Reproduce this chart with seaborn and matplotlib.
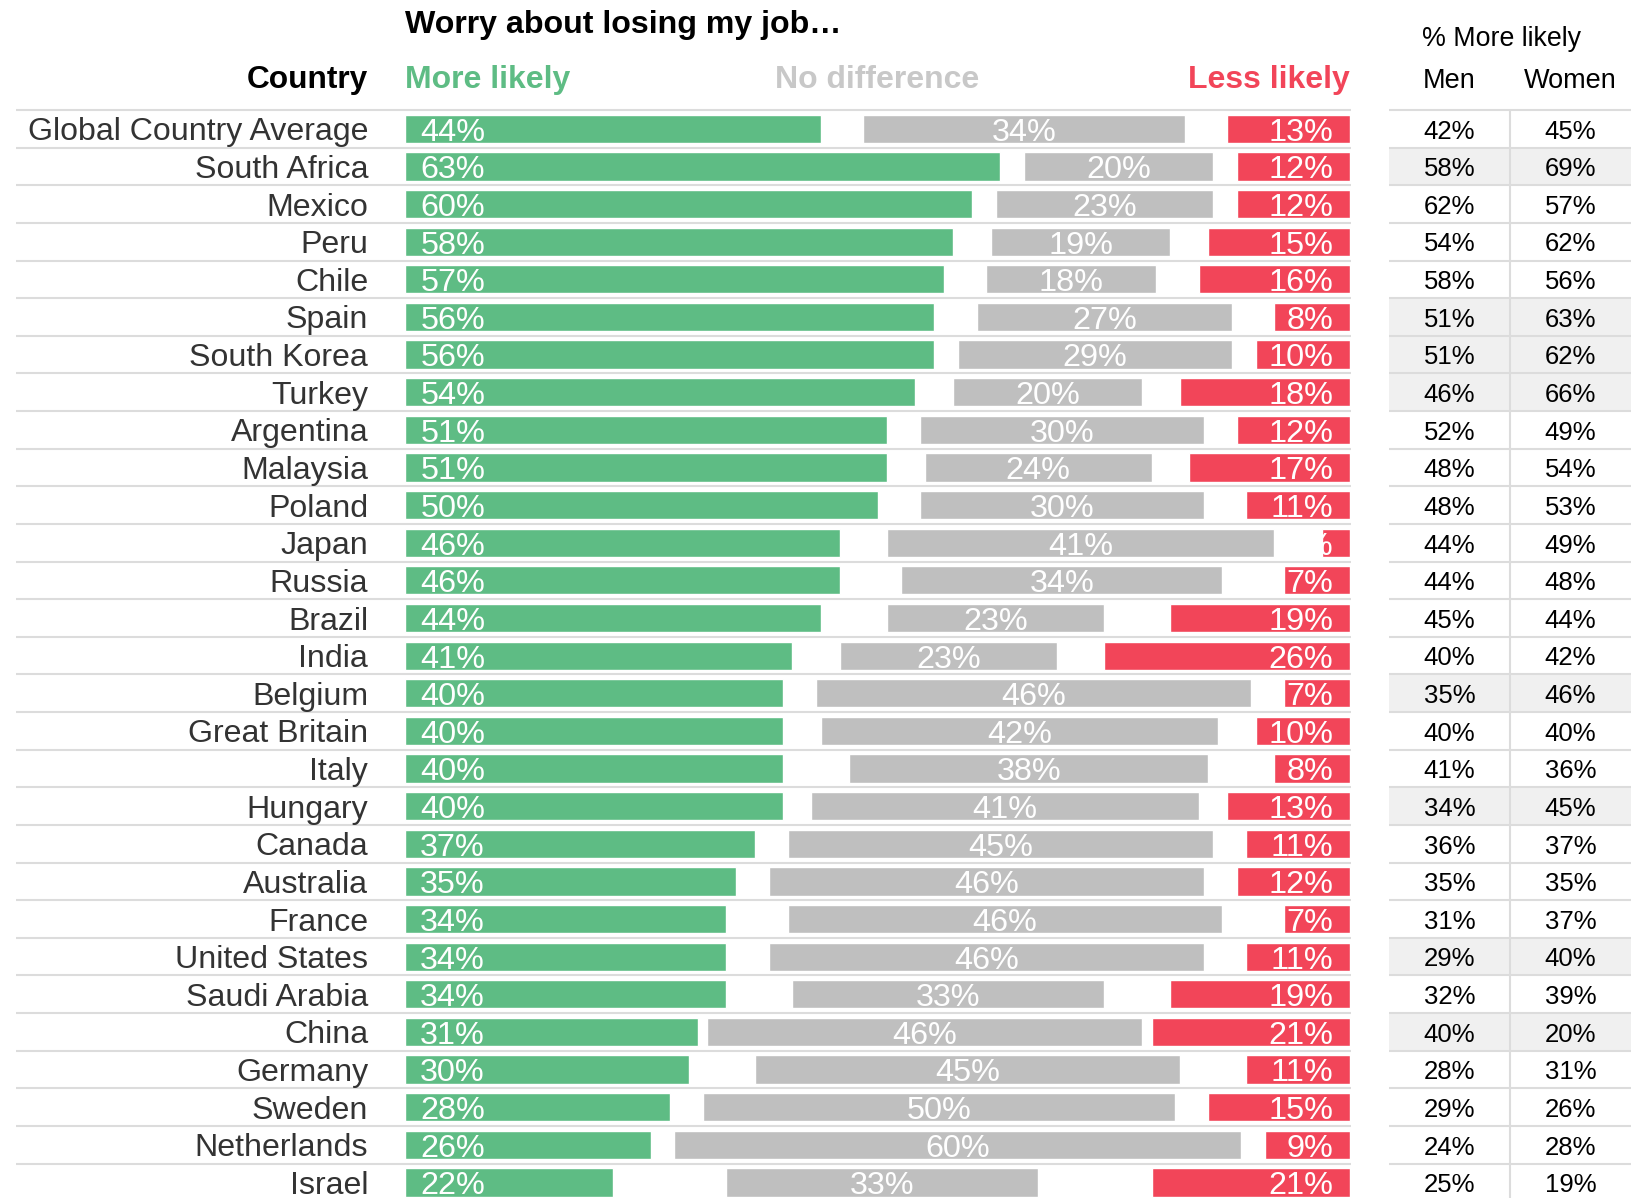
import matplotlib.pyplot as plt
import matplotlib.transforms as mtransforms
from matplotlib.colors import ListedColormap
import numpy as np
import pandas as pd
import seaborn as sns

countries = [
    "Global Country Average", "South Africa", "Mexico", "Peru", "Chile", "Spain",
    "South Korea", "Turkey", "Argentina", "Malaysia", "Poland", "Japan", "Russia",
    "Brazil", "India", "Belgium", "Great Britain", "Italy", "Hungary", "Canada",
    "Australia", "France", "United States", "Saudi Arabia", "China", "Germany",
    "Sweden", "Netherlands", "Israel",
]
more_likely = [44, 63, 60, 58, 57, 56, 56, 54, 51, 51, 50, 46, 46, 44, 41, 40, 40,
               40, 40, 37, 35, 34, 34, 34, 31, 30, 28, 26, 22]
no_difference = [34, 20, 23, 19, 18, 27, 29, 20, 30, 24, 30, 41, 34, 23, 23, 46, 42,
                 38, 41, 45, 46, 46, 46, 33, 46, 45, 50, 60, 33]
less_likely = [13, 12, 12, 15, 16, 8, 10, 18, 12, 17, 11, 3, 7, 19, 26, 7, 10,
               8, 13, 11, 12, 7, 11, 19, 21, 11, 15, 9, 21]
men = [42, 58, 62, 54, 58, 51, 51, 46, 52, 48, 48, 44, 44, 45, 40, 35, 40,
       41, 34, 36, 35, 31, 29, 32, 40, 28, 29, 24, 25]
women = [45, 69, 57, 62, 56, 63, 62, 66, 49, 54, 53, 49, 48, 44, 42, 46, 40,
         36, 45, 37, 35, 37, 40, 39, 20, 31, 26, 28, 19]
# rows shaded in the gender table
highlighted = ["South Africa", "Spain", "South Korea", "Turkey", "Belgium",
               "Hungary", "United States", "China"]

GREEN = "#5EBC84"
GRAY = "#BFBFBF"
RED = "#F24559"
HEAD_GRAY = "#C8C8C8"
LINE = "#DCDCDC"
SHADE = "#F0F0F0"

W, H = 1639, 1198
TOP, ROW = 110, 37.63


def fx(px):
    return px / W


def fy(py):
    return 1 - py / H


sns.set_theme(style="white")
plt.rcParams["font.family"] = ["Liberation Sans", "DejaVu Sans"]

df = pd.DataFrame({
    "country": countries,
    "more": more_likely,
    "nodiff": no_difference,
    "less": less_likely,
})
n = len(df)
gap = (100 - df["more"] - df["nodiff"] - df["less"]) / 2
gray_left = df["more"] + gap
red_left = 100 - df["less"]
rows = np.arange(n)

fig = plt.figure(figsize=(W / 100, H / 100), dpi=100)
ax = fig.add_axes([fx(405), fy(TOP + n * ROW), fx(1350) - fx(405), n * ROW / H])

sns.barplot(data=df, x="more", y="country", color=GREEN, saturation=1,
            width=0.75, errorbar=None, orient="h", ax=ax)
ax.barh(rows, df["nodiff"], left=gray_left, height=0.75, color=GRAY)
red_bars = ax.barh(rows, df["less"], left=red_left, height=0.75, color=RED)

ax.set_xlim(0, 100)
ax.set_ylim(n - 0.5, -0.5)
ax.set_xlabel("")
ax.set_ylabel("")
ax.set_xticks([])
ax.tick_params(axis="y", length=0, pad=26.5)
for lab in ax.get_yticklabels():
    lab.set_fontsize(23.1)
    lab.set_color("#333333")
sns.despine(ax=ax, left=True, bottom=True)

LBL = dict(textcoords="offset points", va="center", color="white", fontsize=23.3)
for i in rows:
    ax.annotate(f"{df['more'][i]}%", xy=(0, i), xytext=(11.0, -2.8),
                ha="left", **LBL)
    ax.annotate(f"{df['nodiff'][i]}%", xy=(gray_left[i] + df["nodiff"][i] / 2, i),
                xytext=(0, -2.8), ha="center", **LBL)
    t = ax.annotate(f"{df['less'][i]}%", xy=(100, i), xytext=(-12.0, -2.8),
                    ha="right", **LBL)
    t.set_clip_path(red_bars.patches[i])

# row separators on the left part
left_tr = mtransforms.blended_transform_factory(fig.transFigure, ax.transData)
ax.hlines(np.arange(n + 1) - 0.5, fx(15.7), fx(1350.5), transform=left_tr,
          color=LINE, linewidth=1.5, clip_on=False, zorder=0)

# headers over the bars
head_tr = mtransforms.blended_transform_factory(ax.transData, fig.transFigure)
ax.text(0, fy(25), "Worry about losing my job…", transform=head_tr, ha="left",
        va="center", fontsize=23.1, fontweight="bold", color="black")
ax.text(0, fy(80), "More likely", transform=head_tr, ha="left", va="center",
        fontsize=23, fontweight="bold", color=GREEN)
ax.text(50, fy(80), "No difference", transform=head_tr, ha="center",
        va="center", fontsize=23, fontweight="bold", color=HEAD_GRAY)
ax.text(100, fy(80), "Less likely", transform=head_tr, ha="right",
        va="center", fontsize=23, fontweight="bold", color=RED)
fig.text(fx(368), fy(80), "Country", ha="right", va="center", fontsize=22.8,
         fontweight="bold", color="black")

# gender table on the right
ax_tab = fig.add_axes([fx(1389), fy(TOP + n * ROW), fx(1631) - fx(1389), n * ROW / H])
shade = np.array([[c in highlighted] * 2 for c in countries], dtype=float)
annot = np.array([[f"{m}%", f"{w}%"] for m, w in zip(men, women)])
sns.heatmap(shade, annot=annot, fmt="", cmap=ListedColormap(["white", SHADE]),
            vmin=0, vmax=1, cbar=False, xticklabels=False, yticklabels=False,
            annot_kws={"fontsize": 18.5, "color": "black"}, ax=ax_tab)
nudge = mtransforms.ScaledTranslation(0, -2.0 / 72, fig.dpi_scale_trans)
for t in ax_tab.texts:
    t.set_transform(t.get_transform() + nudge)
ax_tab.hlines(np.arange(n + 1), 0, 2, color=LINE, linewidth=1.5, clip_on=False)
ax_tab.vlines(1, 0, n, color=LINE, linewidth=1.5, clip_on=False)
for s in ax_tab.spines.values():
    s.set_visible(False)

tab_tr = mtransforms.blended_transform_factory(ax_tab.transData, fig.transFigure)
fig.text(fx(1502), fy(39), "% More likely", ha="center", va="center",
         fontsize=19.3, color="black")
ax_tab.text(0.5, fy(81), "Men", transform=tab_tr, ha="center", va="center",
            fontsize=19.5, color="black")
ax_tab.text(1.5, fy(81), "Women", transform=tab_tr, ha="center", va="center",
            fontsize=19.5, color="black")

fig.savefig("out.png", dpi=100)
plt.close(fig)
